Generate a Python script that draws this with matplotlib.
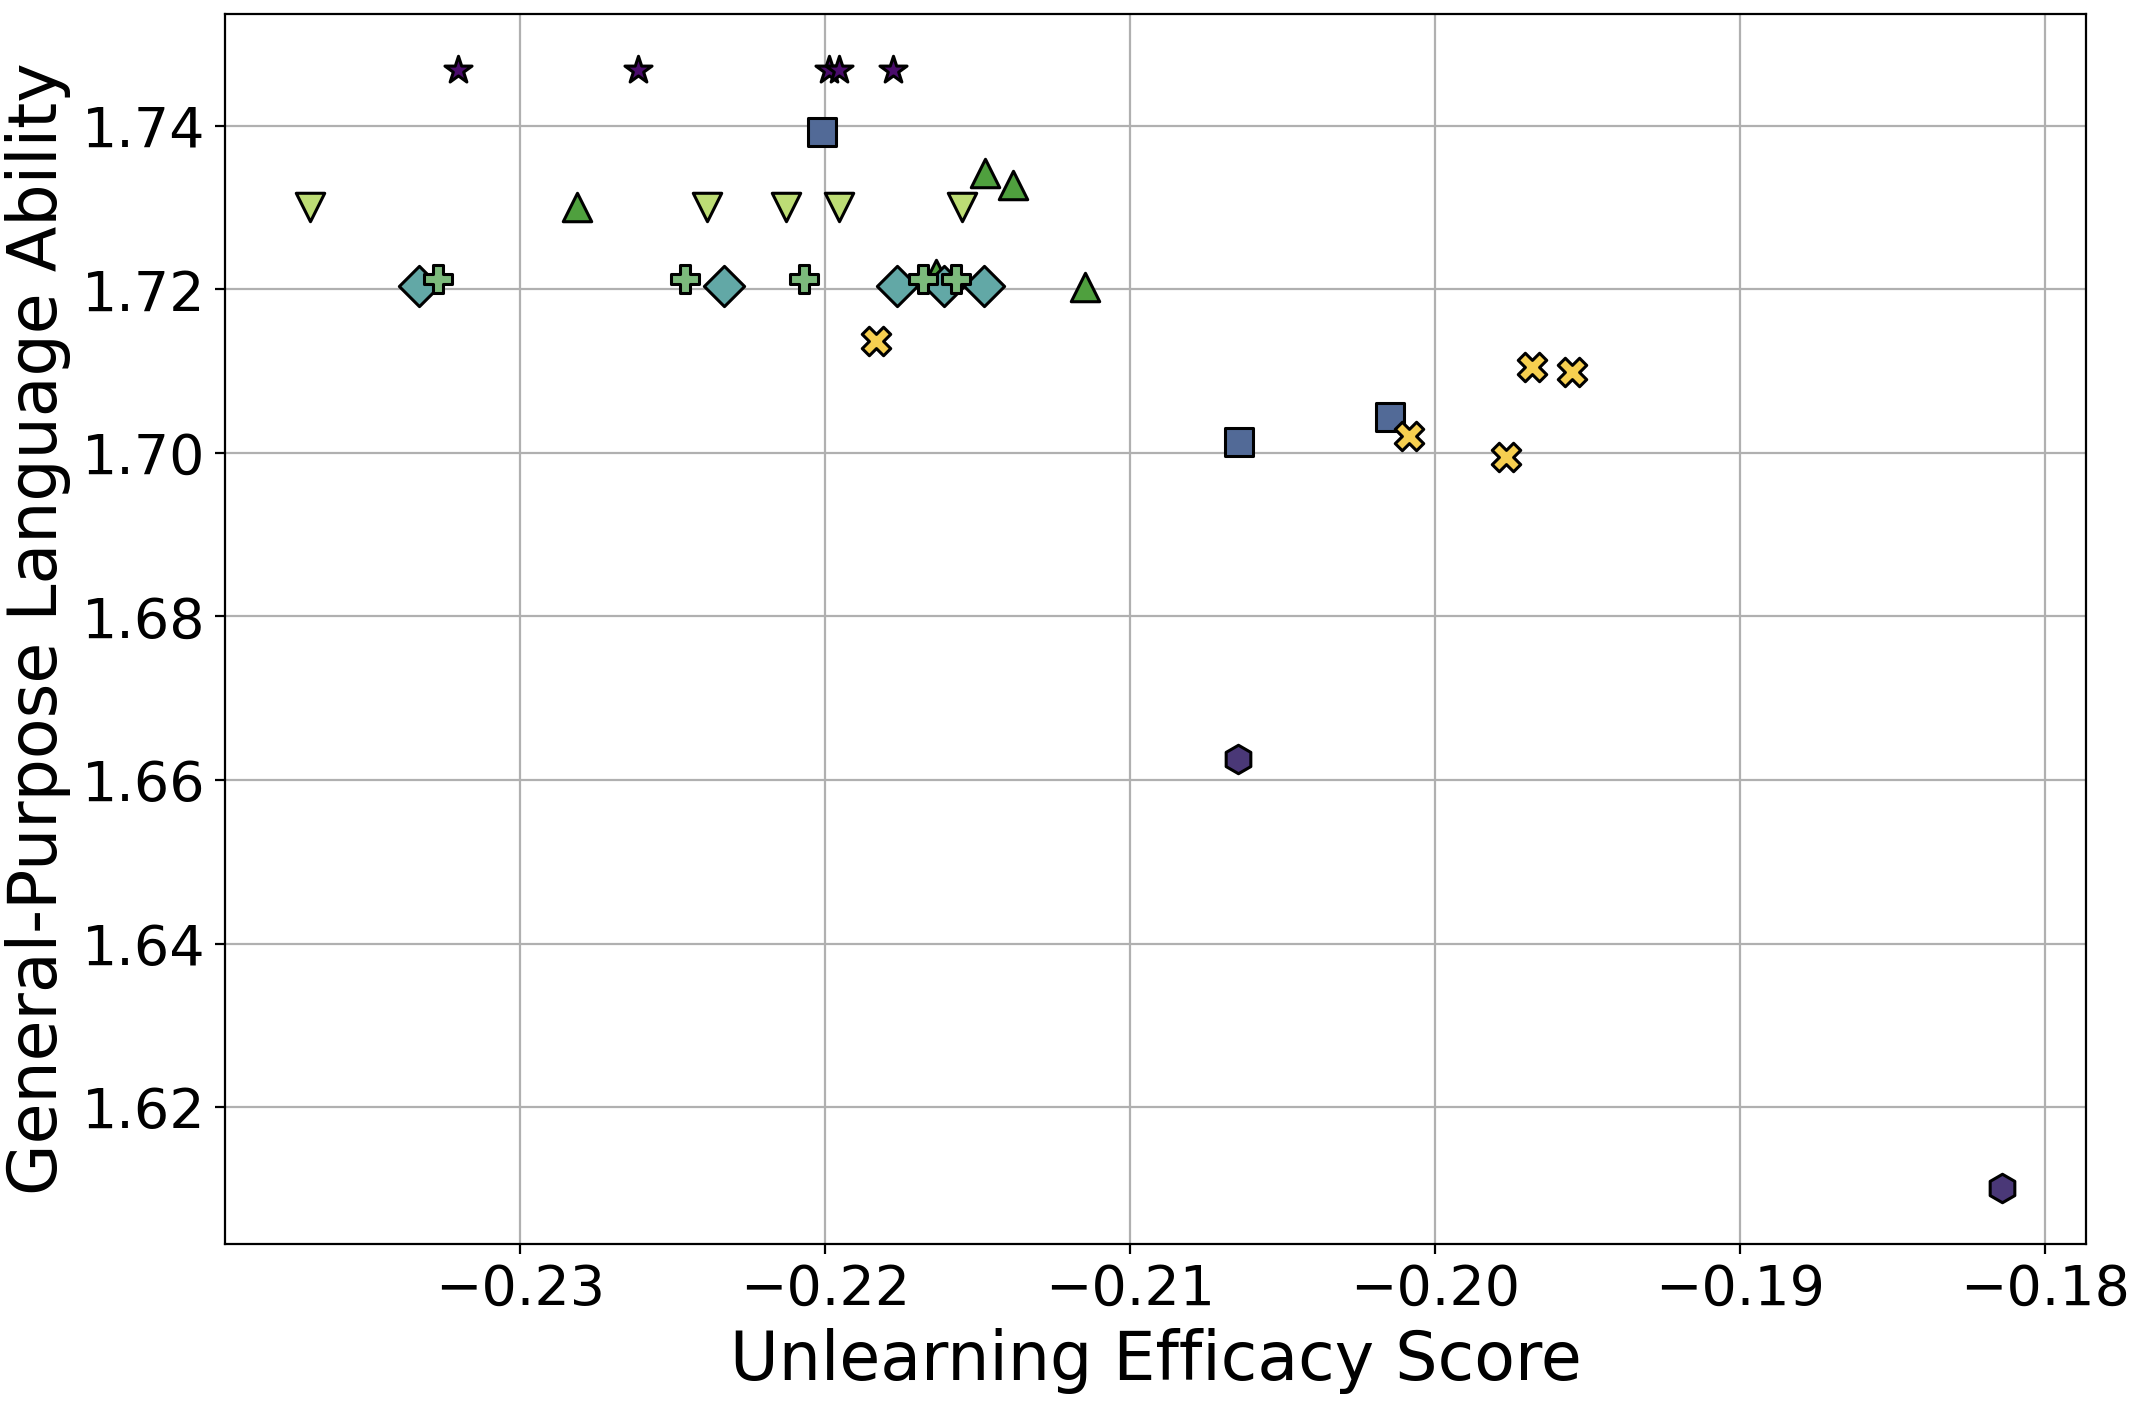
import matplotlib.pyplot as plt

# one series per marker shape
star_x = [-0.23203, -0.22611, -0.21986, -0.21955, -0.21775]
star_y = [1.7468, 1.7468, 1.7468, 1.7468, 1.7468]

hex_x = [-0.20645, -0.18142]
hex_y = [1.66253, 1.61017]

square_x = [-0.22008, -0.20642, -0.20147]
square_y = [1.73919, 1.70134, 1.70440]

up_x = [-0.22812, -0.21474, -0.21382, -0.21634, -0.21147]
up_y = [1.7300, 1.73421, 1.73280, 1.72190, 1.72033]

diamond_x = [-0.23332, -0.22332, -0.21765, -0.21608, -0.21477]
diamond_y = [1.72041, 1.72041, 1.72041, 1.72041, 1.72041]

plus_x = [-0.23269, -0.22457, -0.22068, -0.21678, -0.21571]
plus_y = [1.72130, 1.72130, 1.72130, 1.72130, 1.72130]

down_x = [-0.23689, -0.22388, -0.22126, -0.21955, -0.21549]
down_y = [1.7300, 1.7300, 1.7300, 1.7300, 1.7300]

cross_x = [-0.21833, -0.20084, -0.19682, -0.19549, -0.19767]
cross_y = [1.71370, 1.70208, 1.71050, 1.70989, 1.69951]

series = [
    (star_x, star_y, "*", "#4a0c6b"),
    (hex_x, hex_y, "h", "#4a3877"),
    (square_x, square_y, "s", "#526a97"),
    (up_x, up_y, "^", "#4fa03e"),
    (diamond_x, diamond_y, "D", "#62a8a6"),
    (plus_x, plus_y, "P", "#7cba7c"),
    (down_x, down_y, "v", "#bddd75"),
    (cross_x, cross_y, "X", "#f6cf50"),
]

fig, ax = plt.subplots(figsize=(10.72, 7.09), dpi=200)
for x, y, m, c in series:
    ax.scatter(x, y, marker=m, s=105, c=c, edgecolors="black", linewidths=1.1, zorder=3)

ax.set_xlabel("Unlearning Efficacy Score", fontsize=24)
ax.set_ylabel("General-Purpose Language Ability", fontsize=24)
ax.tick_params(labelsize=20)
ax.grid(True, color="#b0b0b0", linewidth=0.8)
ax.set_axisbelow(True)

plt.subplots_adjust(left=0.105, right=0.973, top=0.99, bottom=0.123)
plt.savefig("out.png", dpi=200)
